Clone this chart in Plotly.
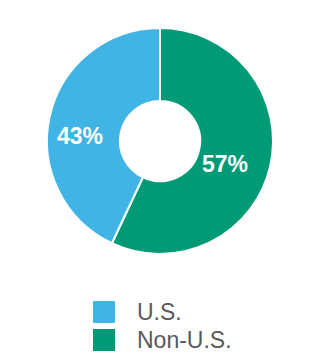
import plotly.graph_objects as go

labels = ["U.S.", "Non-U.S."]
values = [43, 57]
colors = ["#41B4E6", "#009B76"]

W, H = 320, 360
def px(x): return x / W
def py(y): return 1 - y / H

cx, cy, r = 160, 141, 113

fig = go.Figure()
fig.add_trace(go.Pie(
    labels=labels[::-1], values=values[::-1], hole=0.355, sort=False,
    direction="clockwise", rotation=0,
    marker=dict(colors=colors[::-1], line=dict(color="white", width=2)),
    textinfo="none", hoverinfo="label+percent", showlegend=False,
    domain=dict(x=[px(cx - r), px(cx + r)], y=[py(cy + r), py(cy - r)]),
))

# slice labels
label_pos = [(80, 136), (225, 164)]
total = sum(values)
for v, (x, y) in zip(values, label_pos):
    fig.add_annotation(x=px(x), y=py(y), xref="paper", yref="paper",
                       xanchor="center", yanchor="middle",
                       text=f"<b>{round(100 * v / total)}%</b>", showarrow=False,
                       font=dict(family="Liberation Sans, Arial", size=23, color="white"))

# legend
leg_rows = [312, 340]
for lab, col, y in zip(labels, colors, leg_rows):
    fig.add_shape(type="rect", xref="paper", yref="paper",
                  x0=px(93), x1=px(115), y0=py(y + 11), y1=py(y - 11),
                  fillcolor=col, line=dict(width=0))
    fig.add_annotation(x=px(135), y=py(y), xref="paper", yref="paper",
                       text=lab, showarrow=False, xanchor="left", yanchor="middle",
                       font=dict(family="Liberation Sans, Arial", size=23, color="#595959"))

fig.update_layout(width=W, height=H, margin=dict(l=0, r=0, t=0, b=0),
                  paper_bgcolor="white", plot_bgcolor="white")
fig.write_html("out.html")
